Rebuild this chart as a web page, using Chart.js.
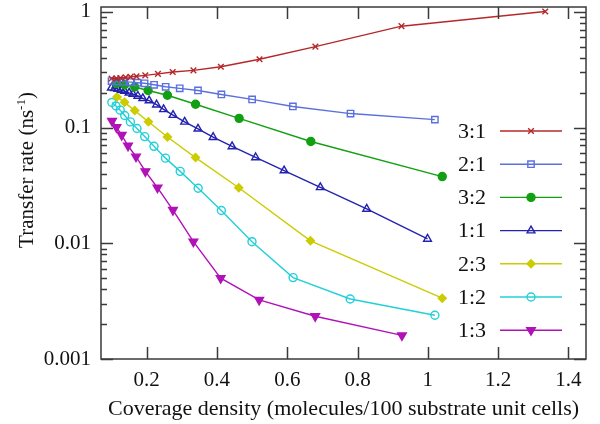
<!DOCTYPE html>
<html>
<head>
<meta charset="utf-8">
<script src="https://cdn.jsdelivr.net/npm/chart.js@4"></script>
<style>
  body { margin: 0; background: #fff; }
  #wrap { width: 600px; height: 424px; position: relative; }
</style>
</head>
<body>
<div id="wrap"><canvas id="chart"></canvas></div>
<script>
/* ---- data ---- */
const X_TICKS = [0.2, 0.4, 0.6, 0.8, 1, 1.2, 1.4];
const Y_TICKS = [0.001, 0.01, 0.1, 1];
const LABELS = ["3:1", "2:1", "3:2", "1:1", "2:3", "1:2", "1:3"];

const x31 = [0.100, 0.114, 0.125, 0.140, 0.154, 0.171, 0.196, 0.232, 0.274, 0.333, 0.411, 0.521, 0.680, 0.925, 1.334];
const y31 = [0.265, 0.266, 0.268, 0.271, 0.274, 0.277, 0.282, 0.291, 0.302, 0.312, 0.335, 0.389, 0.500, 0.751, 1.006];

const x21 = [0.100, 0.1155, 0.133, 0.154, 0.174, 0.194, 0.221, 0.254, 0.294, 0.346, 0.4125, 0.500, 0.616, 0.780, 1.020];
const y21 = [0.252, 0.250, 0.249, 0.247, 0.244, 0.241, 0.234, 0.225, 0.218, 0.209, 0.193, 0.175, 0.152, 0.132, 0.117];

const x32 = [0.114, 0.137, 0.166, 0.204, 0.259, 0.339, 0.463, 0.667, 1.041];
const y32 = [0.241, 0.234, 0.224, 0.209, 0.190, 0.159, 0.120, 0.0757, 0.0377];

const x11 = [0.0996, 0.109, 0.118, 0.128, 0.137, 0.150, 0.161, 0.175, 0.189, 0.207, 0.228, 0.248, 0.275, 0.308, 0.346, 0.389, 0.443, 0.510, 0.591, 0.694, 0.826, 0.999];
const y11 = [0.2205, 0.2178, 0.2148, 0.2106, 0.2064, 0.1995, 0.1946, 0.1872, 0.1789, 0.1710, 0.1575, 0.1434, 0.1281, 0.1120, 0.0975, 0.0825, 0.0686, 0.0551, 0.0425, 0.0304, 0.0198, 0.0109];

const x23 = [0.1155, 0.137, 0.166, 0.205, 0.259, 0.339, 0.462, 0.666, 1.041];
const y23 = [0.184, 0.165, 0.140, 0.112, 0.0829, 0.0550, 0.0302, 0.0105, 0.00335];

const x12 = [0.101, 0.1127, 0.1246, 0.1374, 0.1536, 0.1724, 0.1943, 0.2208, 0.2535, 0.2953, 0.3465, 0.4125, 0.4996, 0.6166, 0.779, 1.020];
const y12 = [0.1647, 0.1536, 0.1413, 0.1271, 0.1118, 0.0980, 0.0835, 0.0688, 0.0544, 0.0418, 0.0299, 0.0192, 0.01032, 0.00505, 0.00330, 0.00239];

const x13 = [0.1013, 0.1138, 0.1289, 0.1468, 0.1696, 0.1963, 0.2307, 0.2748, 0.3329, 0.4105, 0.5201, 0.6794, 0.9263];
const y13 = [0.1139, 0.1006, 0.0861, 0.0696, 0.0560, 0.0418, 0.0302, 0.01936, 0.01032, 0.00500, 0.00324, 0.00234, 0.00160];

const FONT = "'Liberation Serif', 'DejaVu Serif', serif";
const AXIS_COLOR = "#3a3a3a";

function pts(xs, ys) {
    return xs.map((x, i) => ({ x: x, y: ys[i] }));
}

function serie(label, xs, ys, color, style, filled, radius, rotation) {
    return {
        label,
        data: pts(xs, ys),
        borderColor: color,
        backgroundColor: color,
        borderWidth: 1.4,
        pointStyle: style,
        pointRadius: radius,
        pointRotation: rotation || 0,
        pointBorderColor: color,
        pointBackgroundColor: filled ? color : "rgba(0,0,0,0)",
        pointBorderWidth: 1.4,
        tension: 0
    };
}

const datasets = [
    serie(LABELS[0], x31, y31, "#b5282a", "crossRot", false, 4),
    serie(LABELS[1], x21, y21, "#5b70e0", "rect", false, 4.5),
    serie(LABELS[2], x32, y32, "#12a012", "circle", true, 4),
    serie(LABELS[3], x11, y11, "#2222b0", "triangle", false, 4.5),
    serie(LABELS[4], x23, y23, "#cccc00", "rectRot", true, 4),
    serie(LABELS[5], x12, y12, "#22d0d8", "circle", false, 4),
    serie(LABELS[6], x13, y13, "#b012b8", "triangle", true, 5, 180)
];

/* marco + ticks hacia dentro (estilo gnuplot) */
const frameTicks = {
    id: "frameTicks",
    afterDraw(chart) {
        const { ctx, chartArea: a, scales } = chart;
        const sx = scales.x, sy = scales.y;
        ctx.save();
        ctx.strokeStyle = AXIS_COLOR;
        ctx.lineWidth = 1.5;
        ctx.strokeRect(a.left, a.top, a.right - a.left, a.bottom - a.top);
        ctx.beginPath();
        for (const v of X_TICKS) {
            const px = Math.round(sx.getPixelForValue(v)) + 0.5;
            ctx.moveTo(px, a.bottom); ctx.lineTo(px, a.bottom - 12);
            ctx.moveTo(px, a.top); ctx.lineTo(px, a.top + 12);
        }
        for (const d of Y_TICKS) {
            for (let k = 1; k <= 9; k++) {
                const v = d * k;
                if (v > sy.max) break;
                const len = k === 1 ? 12 : 6;
                const py = Math.round(sy.getPixelForValue(v)) + 0.5;
                ctx.moveTo(a.left, py); ctx.lineTo(a.left + len, py);
                ctx.moveTo(a.right, py); ctx.lineTo(a.right - len, py);
            }
        }
        ctx.stroke();
        ctx.restore();
    }
};

/* leyenda a la derecha, texto antes de la muestra */
const sideLegend = {
    id: "sideLegend",
    afterDraw(chart) {
        const { ctx, chartArea: a } = chart;
        const textX = a.right - 100;
        const x0 = a.right - 86, x1 = a.right - 24;
        const top = 131, step = 33.2;
        ctx.save();
        ctx.font = "22px " + FONT;
        ctx.textAlign = "right";
        ctx.textBaseline = "middle";
        chart.data.datasets.forEach((ds, i) => {
            const yy = top + step * i;
            ctx.fillStyle = "#111";
            ctx.fillText(ds.label, textX, yy + 1);
            ctx.strokeStyle = ds.borderColor;
            ctx.lineWidth = ds.borderWidth;
            ctx.beginPath();
            ctx.moveTo(x0, yy); ctx.lineTo(x1, yy);
            ctx.stroke();
            ctx.fillStyle = ds.pointBackgroundColor;
            ctx.lineWidth = ds.pointBorderWidth;
            if (Chart.helpers && Chart.helpers.drawPoint) {
                Chart.helpers.drawPoint(ctx, {
                    pointStyle: ds.pointStyle,
                    radius: ds.pointRadius,
                    rotation: ds.pointRotation,
                    borderWidth: ds.pointBorderWidth
                }, (x0 + x1) / 2, yy);
            }
        });
        ctx.restore();
    }
};

/* titulo eje Y con superindice */
const yTitle = {
    id: "yTitle",
    afterDraw(chart) {
        const { ctx } = chart;
        const main = "Transfer rate (ns", sup = "-1", end = ")";
        ctx.save();
        ctx.translate(26, 170);
        ctx.rotate(-Math.PI / 2);
        ctx.fillStyle = "#111";
        ctx.textBaseline = "alphabetic";
        ctx.font = "21px " + FONT;
        const w1 = ctx.measureText(main).width;
        const w3 = ctx.measureText(end).width;
        ctx.font = "13px " + FONT;
        const w2 = ctx.measureText(sup).width;
        let x = -(w1 + w2 + w3) / 2;
        ctx.font = "21px " + FONT;
        ctx.fillText(main, x, 7);
        x += w1;
        ctx.font = "13px " + FONT;
        ctx.fillText(sup, x, -1);
        x += w2;
        ctx.font = "21px " + FONT;
        ctx.fillText(end, x, 7);
        ctx.restore();
    }
};

new Chart(document.getElementById("chart"), {
    type: "line",
    data: { datasets },
    plugins: [frameTicks, sideLegend, yTitle],
    options: {
        responsive: true,
        maintainAspectRatio: false,
        animation: false,
        layout: { padding: { top: 7, right: 14, left: 0, bottom: 0 } },
        plugins: {
            legend: { display: false },
            tooltip: { enabled: false }
        },
        scales: {
            x: {
                type: "linear",
                min: 0.07,
                max: 1.45,
                bounds: "data",
                afterBuildTicks: (s) => { s.ticks = X_TICKS.map(v => ({ value: v })); },
                afterFit: (s) => { s.height = 65; s.paddingLeft = 0; s.paddingRight = 0; },
                grid: { display: false, drawTicks: false },
                border: { display: false },
                ticks: {
                    color: "#111",
                    padding: 9,
                    autoSkip: false,
                    maxRotation: 0,
                    font: { family: FONT, size: 21 },
                    callback: (v) => String(v)
                },
                title: {
                    display: true,
                    text: "Coverage density (molecules/100 substrate unit cells)",
                    color: "#111",
                    font: { family: FONT, size: 22 },
                    padding: { top: 0, bottom: 2 }
                }
            },
            y: {
                type: "logarithmic",
                min: 0.001,
                max: 1.1,
                bounds: "data",
                afterBuildTicks: (s) => { s.ticks = Y_TICKS.map(v => ({ value: v })); },
                afterFit: (s) => { s.width = 101; s.paddingTop = 0; s.paddingBottom = 0; },
                grid: { display: false, drawTicks: false },
                border: { display: false },
                ticks: {
                    color: "#111",
                    padding: 10,
                    autoSkip: false,
                    font: { family: FONT, size: 21 },
                    callback: (v) => String(v)
                }
            }
        }
    }
});
</script>
</body>
</html>
